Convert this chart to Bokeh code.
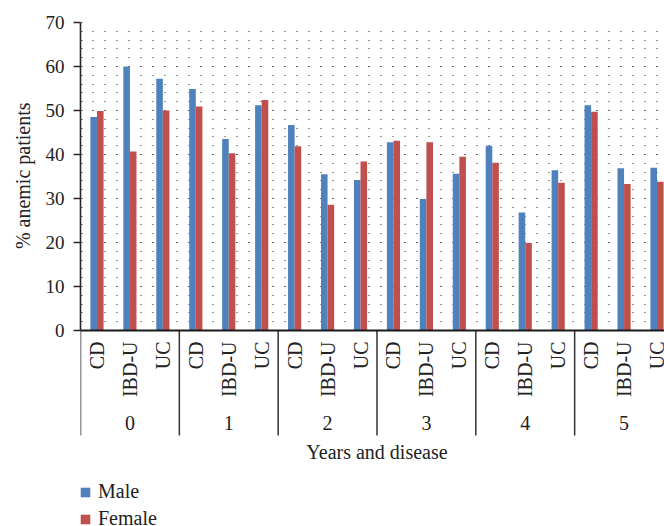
import numpy as np
from math import pi
from bokeh.plotting import figure
from bokeh.models import (ColumnDataSource, Range1d, FixedTicker, Span, Title,
                          Legend, LegendItem)
from bokeh.core.properties import value
from bokeh.embed import file_html
from bokeh.resources import INLINE

# ---- data ----
years = ["0", "1", "2", "3", "4", "5"]
diseases = ["CD", "IBD-U", "UC"]
male = [48.5, 60.0, 57.2, 54.9, 43.5, 51.2, 46.7, 35.5, 34.2,
        42.8, 29.9, 35.6, 42.0, 26.8, 36.4, 51.2, 36.9, 37.0]
female = [49.9, 40.7, 50.0, 50.9, 40.3, 52.4, 41.9, 28.6, 38.4,
          43.1, 42.8, 39.5, 38.1, 19.9, 33.6, 49.7, 33.3, 33.8]
y_ticks = [0, 10, 20, 30, 40, 50, 60, 70]

MALE_C = "#4F81BD"
FEMALE_C = "#C0504D"
TXT = "#222222"
FONT = "Liberation Serif"

# ---- layout constants ----
W, H = 664, 526
LEFT, TOP = 79, 22
ZERO_Y = 330                    # screen y of value 0
PX_PER_UNIT = (ZERO_Y - TOP) / 70.0
CAT_W = 33.0                    # px per category
frame_w = W - LEFT
n_cat = len(years) * len(diseases)

p = figure(width=W, height=H, output_backend="svg", toolbar_location=None,
           x_range=Range1d(0, frame_w / CAT_W),
           y_range=Range1d(-(H - ZERO_Y) / PX_PER_UNIT, 70),
           min_border_left=LEFT, min_border_top=TOP, min_border_right=0,
           min_border_bottom=0, x_axis_location=None)
p.outline_line_color = None
p.background_fill_color = "white"
p.border_fill_color = "white"

# y axis
ax = p.yaxis[0]
ax.ticker = FixedTicker(ticks=y_ticks, minor_ticks=list(range(0, 71, 2)))
ax.bounds = (0, 70)
ax.axis_line_color = "#262626"
ax.axis_line_width = 1.6
ax.major_tick_out = 7
ax.major_tick_in = 0
ax.major_tick_line_color = "#262626"
ax.major_tick_line_width = 1.5
ax.minor_tick_in = 2
ax.minor_tick_out = 0
ax.minor_tick_line_color = "#444444"
ax.major_label_standoff = 9
ax.major_label_text_font = FONT
ax.major_label_text_font_size = "19px"
ax.major_label_text_color = TXT

# y axis title: placed from the top of the frame so it centres on 0-70
ytitle = Title(text="% anemic patients", align="right",
               offset=80, standoff=18,
               text_font=FONT, text_font_size="20px",
               text_font_style="normal", text_color=TXT)
p.add_layout(ytitle, "left")

# dotted grid
p.xgrid.visible = False
p.ygrid.grid_line_color = "#333333"
p.ygrid.grid_line_dash = "1 11"
p.ygrid.grid_line_width = 1
p.ygrid.minor_grid_line_color = "#333333"
p.ygrid.minor_grid_line_dash = "1 11"
p.ygrid.minor_grid_line_width = 1

# bars
centers = np.arange(n_cat) + 0.5
src = ColumnDataSource(dict(xm=centers - 0.1, xf=centers + 0.1,
                            male=male, female=female))
rm = p.vbar(x="xm", top="male", width=0.2, source=src,
            fill_color=MALE_C, line_color=None)
rf = p.vbar(x="xf", top="female", width=0.2, source=src,
            fill_color=FEMALE_C, line_color=None)

# baseline
p.add_layout(Span(location=0, dimension="width", line_color="#1a1a1a",
                  line_width=1.8))

# group dividers
bounds_x = np.arange(0, n_cat + 1, len(diseases))
p.segment(x0=bounds_x, y0=0, x1=bounds_x, y1=-105 / PX_PER_UNIT,
          line_color="#333333", line_width=1.5)

# category labels (rotated)
cat_labels = [d for _ in years for d in diseases]
p.text(x=centers, y=np.zeros(n_cat), text=cat_labels, angle=pi / 2,
       y_offset=11, text_align="right", text_baseline="middle",
       text_font=value(FONT), text_font_size="20px", text_color=TXT)

# group labels
gcenters = np.arange(len(years)) * len(diseases) + len(diseases) / 2
p.text(x=gcenters, y=np.zeros(len(years)), text=years, y_offset=92,
       text_align="center", text_baseline="middle",
       text_font=value(FONT), text_font_size="20px", text_color=TXT)

# x axis title
p.text(x=[n_cat / 2], y=[0], text=["Years and disease"], y_offset=121,
       text_align="center", text_baseline="middle",
       text_font=value(FONT), text_font_size="20px", text_color=TXT)

# legend
legend = Legend(items=[LegendItem(label="Male", renderers=[rm]),
                       LegendItem(label="Female", renderers=[rf])],
                location=(-1, -4), orientation="vertical",
                padding=0, margin=0, spacing=4,
                glyph_width=12, glyph_height=12, label_standoff=7,
                label_text_font=FONT, label_text_font_size="20px",
                label_text_color=TXT,
                border_line_color=None, background_fill_alpha=0)
p.add_layout(legend)

open("out.html", "w").write(file_html(p, INLINE))
